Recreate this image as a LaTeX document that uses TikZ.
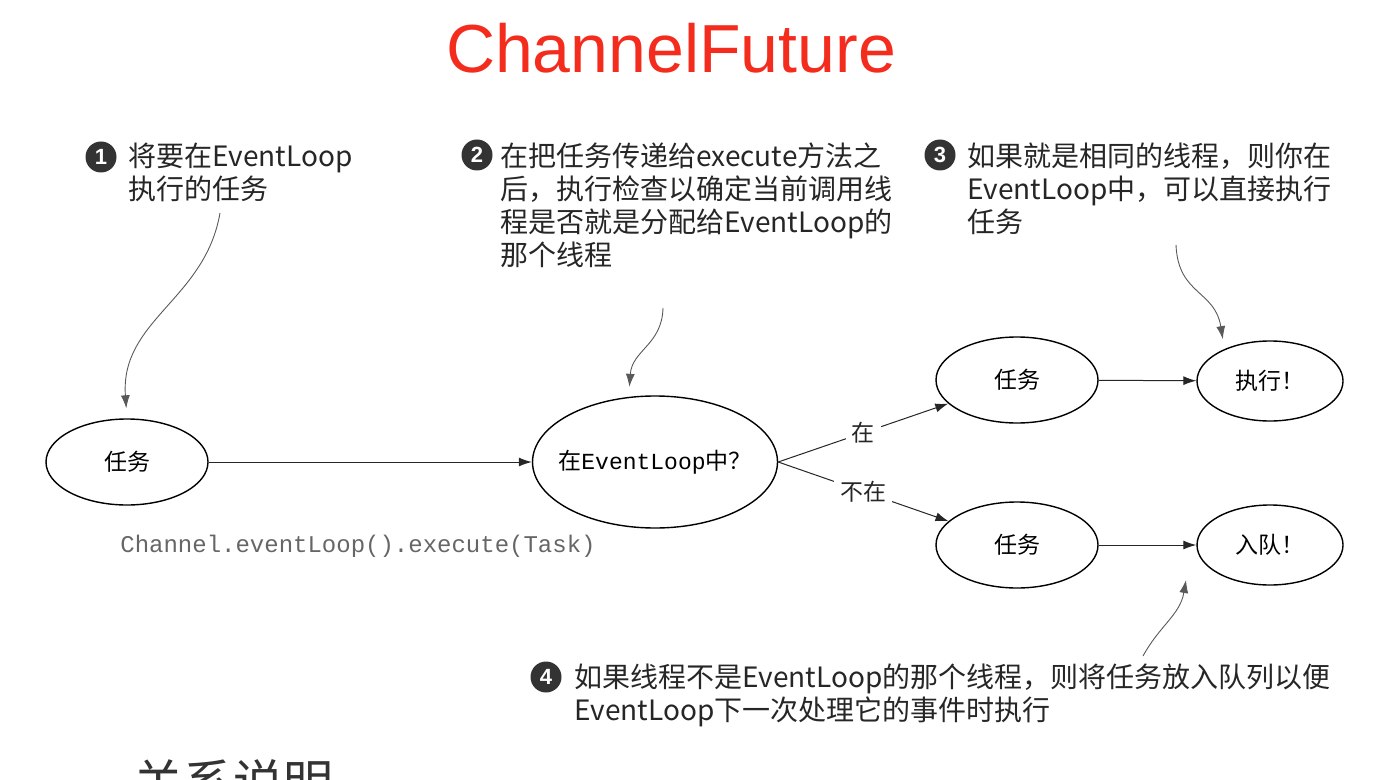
\documentclass[tikz,border=0pt]{standalone}
\usepackage{fontspec}
\setmainfont{Liberation Sans}
\setmonofont{Liberation Mono}
\newfontfamily\cjk{Noto Sans CJK SC}
\usetikzlibrary{arrows.meta, positioning, calc, shapes.geometric}

\definecolor{titlered}{HTML}{F42C1E}

\begin{document}
\begin{tikzpicture}[x=0.5pt, y=-0.5pt, >={Latex[length=6.5pt, width=4.5pt]},
    state/.style={ellipse, draw, line width=0.7pt, inner sep=0pt,
        font=\cjk\fontsize{11.5}{13}\selectfont, minimum width=81pt, minimum height=43pt},
    result/.style={state, minimum width=73pt, minimum height=40pt},
    flow/.style={->, line width=0.5pt, black!85},
    pointer/.style={->, line width=0.45pt, black!65, shorten >=5pt},
    numdot/.style={circle, fill=black!80, text=white, inner sep=0pt, minimum size=15.5pt,
        font=\bfseries\fontsize{11}{11}\selectfont},
    note/.style={anchor=north west, align=left, inner sep=0pt,
        font=\cjk\fontsize{14}{16.5}\selectfont, text=black!85},
]
    % page frame
    \useasboundingbox (0,0) rectangle (1384,780);
    \clip (0,0) rectangle (1384,780);

    \node[font=\fontsize{34}{40}\selectfont, text=titlered] (title) at (671,48) {ChannelFuture};

    % the states
    \node[state] (task0) at (127,462) {任务};
    \node[state, inner xsep=-5pt, minimum width=122pt, minimum height=66pt] (check) at (655,462)
        {在\ttfamily EventLoop\cjk 中？};
    \node[state] (taskA) at (1017,380) {任务};
    \node[result] (exec) at (1270,381) {执行！};
    \node[state] (taskB) at (1017,545) {任务};
    \node[result] (queue) at (1270,545) {入队！};

    \draw[flow] (task0) -- (check);
    \draw[flow] (check.east) -- node[fill=white, font=\cjk\fontsize{11.5}{13}\selectfont, inner sep=3pt] (yes) {在} (taskA);
    \draw[flow] (check.east) -- node[fill=white, font=\cjk\fontsize{11.5}{13}\selectfont, inner sep=3pt] (no) {不在} (taskB);
    \draw[flow] (taskA) -- (exec);
    \draw[flow] (taskB) -- (queue);

    \node[font=\ttfamily\fontsize{12}{14}\selectfont, text=black!60] (call) at (358,546)
        {Channel.eventLoop().execute(Task)};

    % the four notes
    \node[numdot] (n1) at (101,157) {1};
    \node[note] (note1) at (128,143) {将要在EventLoop\\执行的任务};
    \node[numdot] (n2) at (477,155) {2};
    \node[note] (note2) at (500,142) {在把任务传递给execute方法之\\后，执行检查以确定当前调用线\\程是否就是分配给EventLoop的\\那个线程};
    \node[numdot] (n3) at (940,155) {3};
    \node[note] (note3) at (967,142) {如果就是相同的线程，则你在\\EventLoop中，可以直接执行\\任务};
    \node[numdot] (n4) at (546,677) {4};
    \node[note] (note4) at (574,663) {如果线程不是EventLoop的那个线程，则将任务放入队列以便\\EventLoop下一次处理它的事件时执行};

    % pointers from the notes
    \coordinate (p1) at (220,213);
    \coordinate (p2) at (663,308);
    \coordinate (p3) at (1176,245);
    \coordinate (p4) at (1143,656);
    \coordinate (q4) at (1186,580);
    \draw[pointer] (p1) .. controls (205,300) and (120,320) .. (task0.north);
    \draw[pointer] (p2) .. controls (662,345) and (632,350) .. (check.112);
    \draw[pointer] (p3) .. controls (1178,295) and (1215,290) .. (exec.145);
    \draw[pointer, shorten >=0pt] (p4) .. controls (1160,625) and (1180,615) .. (q4);

    \node[font=\cjk\fontsize{25}{30}\selectfont, text=black!80, anchor=base] (heading) at (233,801) {关系说明};
\end{tikzpicture}
\end{document}
